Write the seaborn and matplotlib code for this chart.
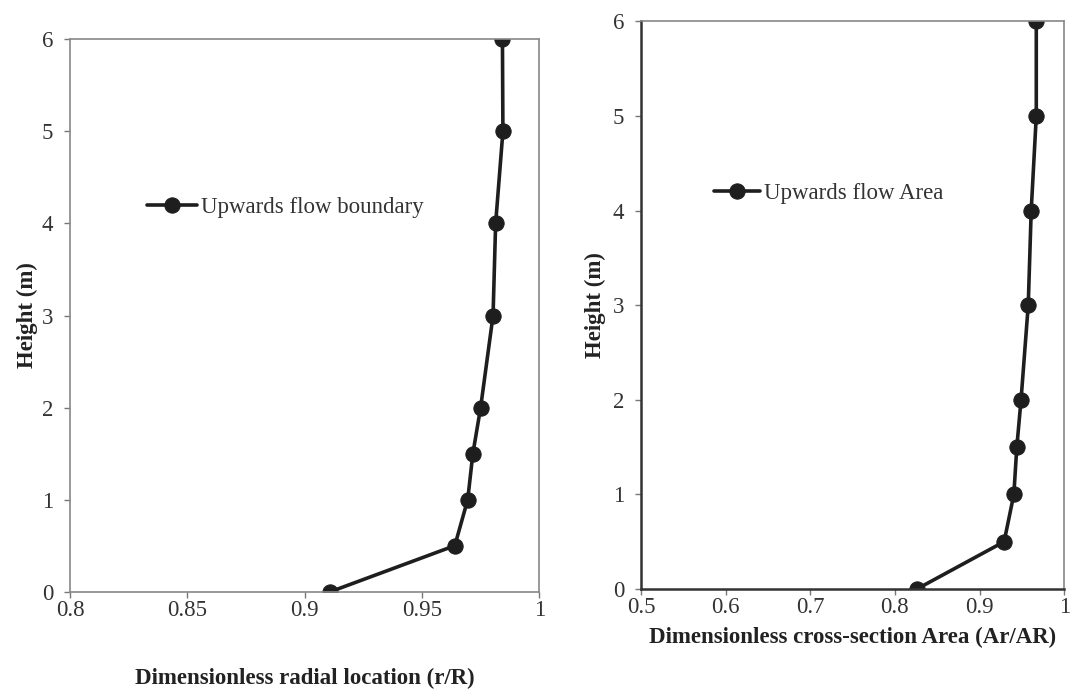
import numpy as np
import pandas as pd
import matplotlib
matplotlib.use('Agg')
import matplotlib.pyplot as plt
import seaborn as sns

heights = [0, 0.5, 1, 1.5, 2, 3, 4, 5, 6]
radial = [0.911, 0.964, 0.9695, 0.9717, 0.975, 0.9803, 0.9814, 0.9845, 0.9843]
area = [0.826, 0.929, 0.9405, 0.944, 0.949, 0.9575, 0.961, 0.967, 0.967]

left_xticks = [0.8, 0.85, 0.9, 0.95, 1.0]
left_xlabels = ['0.8', '0.85', '0.9', '0.95', '1']
right_xticks = [0.5, 0.6, 0.7, 0.8, 0.9, 1.0]
right_xlabels = ['0.5', '0.6', '0.7', '0.8', '0.9', '1']
yticks = [0, 1, 2, 3, 4, 5, 6]

df1 = pd.DataFrame({'r': radial, 'h': heights})
df2 = pd.DataFrame({'a': area, 'h': heights})

sns.set_style('white')
plt.rcParams['font.family'] = ['Liberation Serif', 'DejaVu Serif']

fig = plt.figure(figsize=(10.7, 6.91), dpi=100)
ax1 = fig.add_axes([0.0654, 0.1437, 0.4386, 0.7994])
ax2 = fig.add_axes([0.599, 0.1476, 0.3956, 0.8216])

line_kw = dict(color='#1e1e1e', linewidth=2.6, marker='o', markersize=11,
               markeredgecolor='#1e1e1e', sort=False, estimator=None)

sns.lineplot(data=df1, x='r', y='h', ax=ax1, label='Upwards flow boundary', **line_kw)
sns.lineplot(data=df2, x='a', y='h', ax=ax2, label='Upwards flow Area', **line_kw)

ax1.set_xlim(0.8, 1.0)
ax2.set_xlim(0.5, 1.0)
for ax in (ax1, ax2):
    ax.set_ylim(0, 6)
    ax.set_yticks(yticks)
    ax.set_yticklabels([str(t) for t in yticks])
    ax.tick_params(axis='both', which='major', bottom=True, left=True, direction='out',
                   length=4, width=1, color='#777777', labelsize=16.5, labelcolor='#333333')
    ax.tick_params(axis='x', pad=2)
    ax.tick_params(axis='y', pad=8)
    ax.set_ylabel('Height (m)', fontsize=16.5, fontweight='bold', color='#222222')
    for s in ax.spines.values():
        s.set_color('#888888')
        s.set_linewidth(1.2)

ax1.set_xticks(left_xticks)
ax1.set_xticklabels(left_xlabels)
ax2.set_xticks(right_xticks)
ax2.set_xticklabels(right_xlabels)

ax2.spines['left'].set_color('#333333')
ax2.spines['left'].set_linewidth(1.8)
ax2.spines['bottom'].set_color('#333333')
ax2.spines['bottom'].set_linewidth(1.8)

ax1.set_xlabel('Dimensionless radial location (r/R)', fontsize=16.5, fontweight='bold',
               color='#222222', labelpad=34)
ax2.set_xlabel('Dimensionless cross-section Area (Ar/AR)', fontsize=16.5, fontweight='bold',
               color='#222222', labelpad=6)
ax1.yaxis.labelpad = 3
ax2.yaxis.labelpad = 5

ax1.legend(loc='center left', bbox_to_anchor=(0.12, 0.695), frameon=False,
           fontsize=16.5, handlelength=2.2, handletextpad=0.15, labelcolor='#333333')
ax2.legend(loc='center left', bbox_to_anchor=(0.125, 0.696), frameon=False,
           fontsize=16.5, handlelength=2.0, handletextpad=0.15, labelcolor='#333333')

fig.savefig('out.png', dpi=100)
